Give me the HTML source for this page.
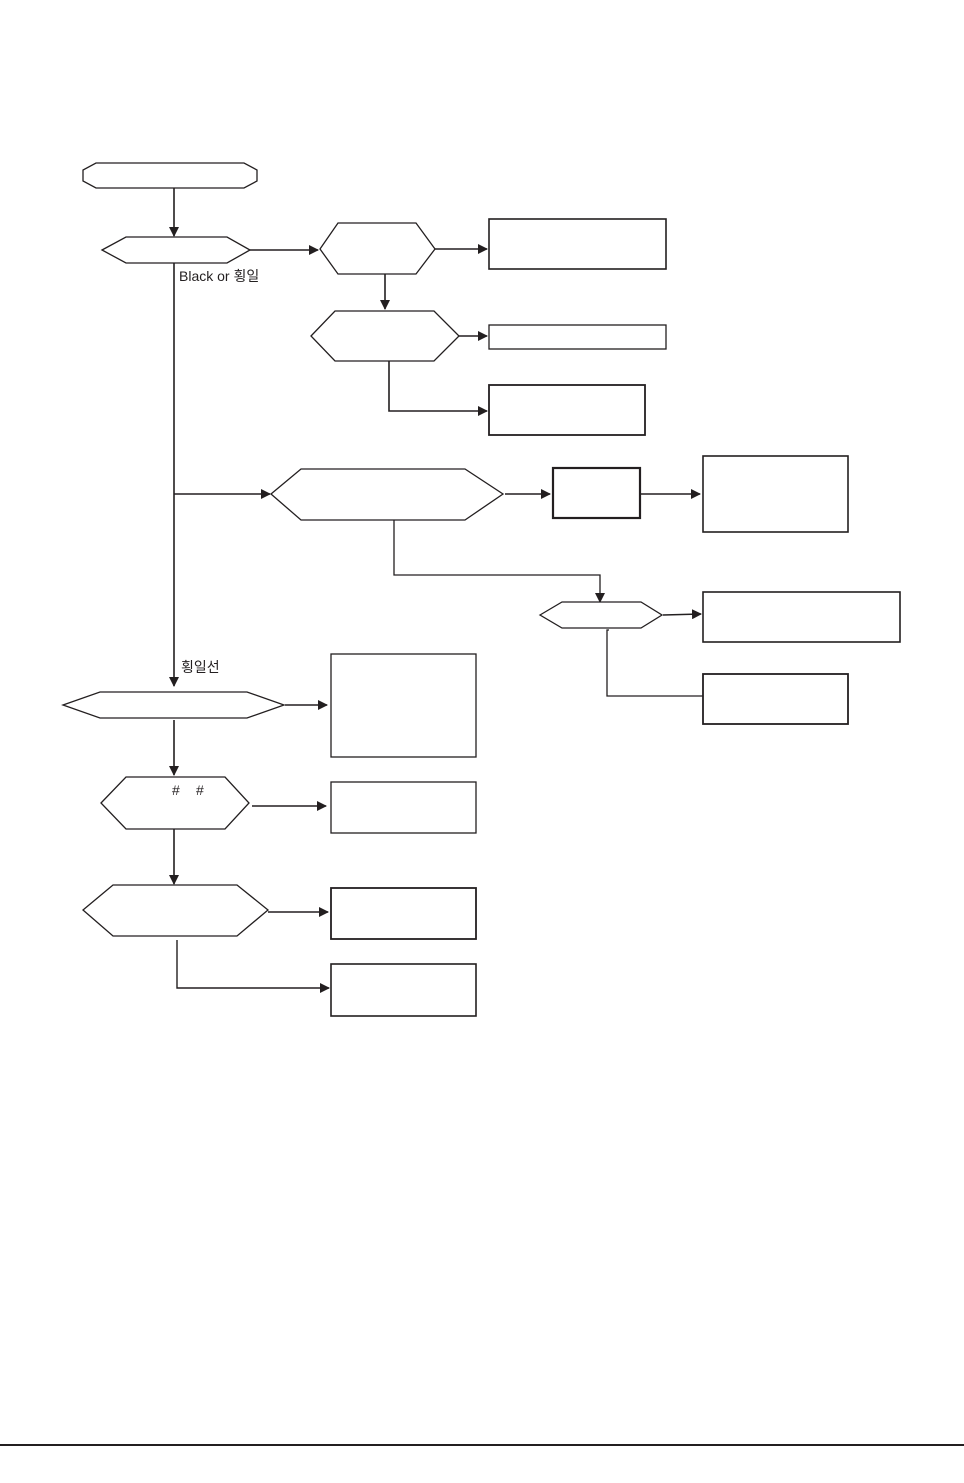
<!DOCTYPE html>
<html><head><meta charset="utf-8">
<style>
html,body{margin:0;padding:0;background:#fff;}
svg{display:block;}
text{font-family:"Liberation Sans","Noto Sans CJK KR",sans-serif;fill:#231f20;}
</style></head>
<body>
<svg width="964" height="1483" viewBox="0 0 964 1483" xmlns="http://www.w3.org/2000/svg">
<defs>
<marker id="a" markerWidth="10" markerHeight="10" refX="9" refY="5" orient="auto" markerUnits="userSpaceOnUse">
<path d="M0,0 L10,5 L0,10 Z" fill="#231f20"/>
</marker>
</defs>
<g fill="none" stroke="#231f20" stroke-width="1.3">
<!-- terminator -->
<path d="M96,163 L244,163 L257,170 L257,181 L244,188 L96,188 L83,181 L83,170 Z" fill="#fff"/>
<line x1="174" y1="188" x2="174" y2="236" marker-end="url(#a)" stroke-width="1.6"/>
<!-- hex1 -->
<polygon points="102,250 126,237 227,237 250,250 227,263 126,263" fill="#fff"/>
<line x1="250" y1="250" x2="318" y2="250" marker-end="url(#a)" stroke-width="1.6"/>
<!-- hex2 -->
<polygon points="320,249 338,223 416,223 435,249 416,274 338,274" fill="#fff"/>
<line x1="435" y1="249" x2="487" y2="249" marker-end="url(#a)" stroke-width="1.6"/>
<rect x="489" y="219" width="177" height="50" stroke-width="1.6"/>
<line x1="385" y1="274" x2="385" y2="309" marker-end="url(#a)" stroke-width="1.6"/>
<!-- hex3 -->
<polygon points="311,336 335,311 434,311 459,336 434,361 335,361" fill="#fff"/>
<line x1="459" y1="336" x2="487" y2="336" marker-end="url(#a)" stroke-width="1.6"/>
<rect x="489" y="325" width="177" height="24"/>
<polyline points="389,361 389,411 487,411" marker-end="url(#a)" stroke-width="1.6"/>
<rect x="489" y="385" width="156" height="50" stroke-width="1.8"/>
<!-- main vertical -->
<line x1="174" y1="263" x2="174" y2="686" marker-end="url(#a)" stroke-width="1.6"/>
<line x1="174" y1="494" x2="270" y2="494" marker-end="url(#a)" stroke-width="1.6"/>
<!-- hex4 -->
<polygon points="271,494 301,469 465,469 503,494 465,520 301,520" fill="#fff"/>
<line x1="505" y1="494" x2="550" y2="494" marker-end="url(#a)" stroke-width="1.6"/>
<rect x="553" y="468" width="87" height="50" stroke-width="2.2"/>
<line x1="641" y1="494" x2="700" y2="494" marker-end="url(#a)" stroke-width="1.6"/>
<rect x="703" y="456" width="145" height="76" stroke-width="1.6"/>
<polyline points="394,520 394,575 600,575 600,602" marker-end="url(#a)"/>
<!-- hex5 -->
<polygon points="540,615 562,602 641,602 662,615 641,628 562,628" fill="#fff"/>
<line x1="663" y1="615" x2="701" y2="614" marker-end="url(#a)" stroke-width="1.6"/>
<rect x="703" y="592" width="197" height="50" stroke-width="1.6"/>
<polyline points="609,630 607,630 607,696 703,696"/>
<rect x="703" y="674" width="145" height="50" stroke-width="1.8"/>
<!-- hex6 -->
<polygon points="63,705 100,692 247,692 284,705 247,718 100,718" fill="#fff"/>
<line x1="285" y1="705" x2="327" y2="705" marker-end="url(#a)" stroke-width="1.6"/>
<rect x="331" y="654" width="145" height="103"/>
<line x1="174" y1="720" x2="174" y2="775" marker-end="url(#a)" stroke-width="1.6"/>
<!-- hex7 -->
<polygon points="101,803 126,777 225,777 249,803 225,829 126,829" fill="#fff"/>
<line x1="252" y1="806" x2="326" y2="806" marker-end="url(#a)" stroke-width="1.6"/>
<rect x="331" y="782" width="145" height="51"/>
<line x1="174" y1="829" x2="174" y2="884" marker-end="url(#a)" stroke-width="1.6"/>
<!-- hex8 -->
<polygon points="83,910 113,885 237,885 268,910 237,936 113,936" fill="#fff"/>
<line x1="268" y1="912" x2="328" y2="912" marker-end="url(#a)" stroke-width="1.6"/>
<rect x="331" y="888" width="145" height="51" stroke-width="1.8"/>
<polyline points="177,940 177,988 329,988" marker-end="url(#a)" stroke-width="1.4"/>
<rect x="331" y="964" width="145" height="52" stroke-width="1.6"/>
</g>
<text x="179" y="281" font-size="14">Black or 횡일</text>
<text x="181" y="672" font-size="14">횡일선</text>
<text x="172" y="795" font-size="14">#</text>
<text x="196" y="795" font-size="14">#</text>
<rect x="0" y="1444" width="964" height="2" fill="#231f20"/>
</svg>
</body></html>
